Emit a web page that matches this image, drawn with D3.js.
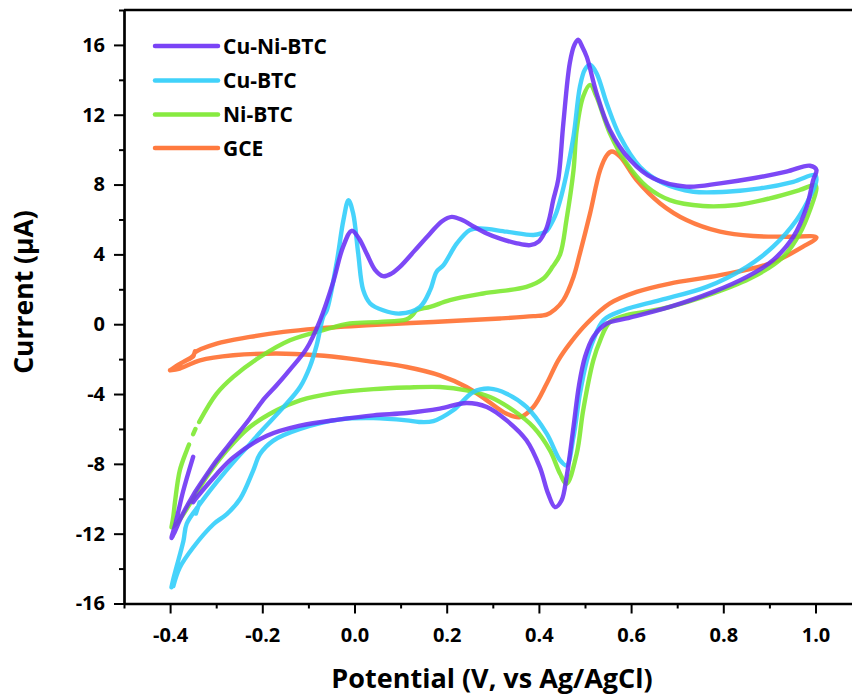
<!DOCTYPE html>
<html>
<head>
<meta charset="utf-8">
<script src="https://cdn.jsdelivr.net/npm/d3@7"></script>
<style>
  html, body { margin: 0; padding: 0; background: #fff; }
  svg { display: block; }
  text { font-family: "Open Sans", "Noto Sans", sans-serif; font-weight: 700; fill: #000; }
</style>
</head>
<body>
<svg id="chart" width="852" height="697"></svg>
<script>
// ---------- data (Potential V, Current µA); null = gap in the trace ----------
const seriesNames = ["Cu-Ni-BTC", "Cu-BTC", "Ni-BTC", "GCE"];

const cuNiBTC = [
  [-0.350,-7.6],[-0.372,-9.6],[-0.388,-11.4],[-0.397,-12.25],[-0.390,-11.9],[-0.375,-11.0],
  [-0.350,-9.8],[-0.320,-8.6],[-0.299,-7.8],[-0.263,-6.6],[-0.227,-5.4],[-0.200,-4.4],
  [-0.169,-3.5],[-0.140,-2.6],[-0.104,-1.4],[-0.075,0.2],[-0.047,2.35],[-0.025,4.42],
  [-0.006,5.35],[0.010,4.9],[0.026,4.07],[0.045,3.1],[0.062,2.75],[0.080,2.9],[0.099,3.3],
  [0.130,4.2],[0.164,5.2],[0.190,5.9],[0.211,6.15],[0.235,5.95],[0.258,5.6],[0.287,5.2],
  [0.316,4.9],[0.350,4.65],[0.381,4.53],[0.400,4.75],[0.415,5.4],[0.424,6.2],[0.431,7.1],
  [0.442,8.3],[0.453,11.5],[0.467,14.96],[0.477,16.0],[0.485,16.3],[0.494,15.9],[0.504,15.3],
  [0.525,13.24],[0.554,11.13],[0.598,9.41],[0.648,8.36],[0.720,7.88],[0.793,8.07],[0.865,8.36],
  [0.937,8.74],[0.988,9.08],[1.002,8.84],[0.995,8.26],[0.981,6.73],[0.952,5.01],[0.908,3.67],
  [0.851,2.71],[0.778,1.85],[0.684,0.99],[0.590,0.33],[0.547,0.04],[0.518,-0.73],[0.500,-1.88],
  [0.487,-3.5],[0.475,-5.89],[0.460,-8.76],[0.449,-10.1],[0.435,-10.48],[0.420,-9.71],
  [0.402,-8.19],[0.373,-6.65],[0.330,-5.51],[0.287,-4.74],[0.243,-4.51],[0.185,-4.84],
  [0.113,-5.09],[0.041,-5.22],[-0.031,-5.45],[-0.118,-5.81],[-0.190,-6.39],[-0.263,-7.63],
  [-0.299,-8.59],[-0.342,-9.92],[-0.350,-10.2]
];

const cuBTC = [
  [-0.344,-10.85],[-0.336,-10.2], null,
  [-0.397,-15.07],[-0.393,-14.6],[-0.386,-13.9],[-0.371,-12.4],[-0.364,-11.43],[-0.335,-10.29],
  [-0.299,-9.05],[-0.256,-7.7],[-0.227,-6.87],[-0.205,-6.2],[-0.154,-4.75],[-0.118,-3.6],
  [-0.097,-2.45],[-0.082,-1.2],[-0.068,0.42],[-0.060,0.80],[-0.039,3.48],[-0.024,5.97],
  [-0.013,7.11],[-0.003,6.35],[0.008,4.06],[0.019,1.95],[0.034,1.19],[0.062,0.80],[0.099,0.61],
  [0.142,0.99],[0.164,1.95],[0.178,3.00],[0.193,3.38],[0.222,4.63],[0.250,5.39],[0.272,5.49],
  [0.330,5.30],[0.388,5.11],[0.405,5.2],[0.417,5.35],[0.431,5.97],[0.438,6.4],[0.453,7.8],
  [0.475,10.75],[0.489,13.61],[0.500,14.6],[0.511,14.86],[0.525,14.38],[0.547,12.66],
  [0.576,10.75],[0.619,9.02],[0.670,8.07],[0.735,7.59],[0.807,7.59],[0.880,7.78],[0.952,8.16],
  [0.999,8.55],[1.002,8.26],[0.988,7.30],[0.959,5.97],[0.908,4.44],[0.851,3.29],[0.764,2.14],
  [0.663,1.38],[0.583,0.80],[0.540,0.23],[0.518,-0.92],[0.504,-2.07],[0.489,-3.98],[0.475,-6.46],
  [0.460,-8.09],[0.446,-7.80],[0.417,-6.27],[0.373,-4.74],[0.330,-3.98],[0.294,-3.69],
  [0.258,-3.88],[0.214,-4.93],[0.171,-5.55],[0.140,-5.6],[0.113,-5.51],[0.041,-5.38],
  [-0.031,-5.45],[-0.118,-6.0],[-0.176,-6.67],[-0.205,-7.44],[-0.220,-8.40],[-0.248,-10.0],
  [-0.277,-10.88],[-0.306,-11.46],[-0.350,-12.79],[-0.379,-13.94],[-0.393,-15.0]
];

const niBTC = [
  [-0.397,-11.63],[-0.393,-11.0],[-0.389,-10.1],[-0.379,-8.38],[-0.364,-7.23],[-0.359,-6.9], null,
  [-0.350,-6.3],[-0.345,-6.0], null,
  [-0.337,-5.6],[-0.299,-3.98],[-0.263,-3.02],[-0.205,-1.88],[-0.140,-0.92],[-0.068,-0.34],
  [-0.010,0.04],[0.055,0.13],[0.113,0.28],[0.125,0.5],[0.135,0.8],[0.164,0.99],[0.207,1.38],
  [0.279,1.76],[0.373,2.14],[0.409,2.6],[0.430,3.3],[0.446,4.0],[0.460,6.0],[0.475,8.8],
  [0.482,11.13],[0.496,13.04],[0.511,13.71],[0.525,13.04],[0.554,10.94],[0.590,9.22],
  [0.634,7.88],[0.684,7.11],[0.756,6.77],[0.829,6.83],[0.901,7.21],[0.966,7.69],[0.999,7.97],
  [1.002,7.78],[0.988,6.54],[0.966,5.20],[0.930,3.86],[0.865,2.71],[0.778,1.76],[0.670,0.90],
  [0.590,0.52],[0.554,0.13],[0.533,-0.92],[0.518,-2.07],[0.496,-4.93],[0.482,-7.42],
  [0.460,-9.14],[0.446,-8.57],[0.424,-7.23],[0.388,-5.89],[0.344,-4.93],[0.294,-4.17],
  [0.243,-3.79],[0.185,-3.60],[0.113,-3.63],[0.041,-3.72],[-0.046,-3.95],[-0.118,-4.36],
  [-0.169,-4.93],[-0.227,-5.89],[-0.277,-7.23],[-0.321,-8.76],[-0.357,-10.29],[-0.386,-11.43],
  [-0.395,-11.6]
];

const gce = [
  [-0.346,-1.55],[-0.350,-1.8],[-0.371,-2.16],[-0.390,-2.45],[-0.400,-2.64],[-0.390,-2.45],
  [-0.371,-2.16],[-0.350,-1.85],[-0.346,-1.62],[-0.299,-1.11],[-0.227,-0.73],[-0.154,-0.44],
  [-0.082,-0.25],[0.026,-0.06],[0.171,0.13],[0.316,0.33],[0.388,0.46],[0.417,0.55],[0.435,0.85],
  [0.453,1.38],[0.475,2.71],[0.489,4.06],[0.511,6.35],[0.533,8.84],[0.548,9.7],[0.558,9.89],
  [0.576,9.60],[0.612,8.26],[0.663,6.92],[0.720,5.97],[0.793,5.30],[0.865,5.05],[0.937,5.01],
  [1.002,4.97],[0.973,4.44],[0.901,3.48],[0.793,2.81],[0.684,2.33],[0.612,1.85],[0.554,1.19],
  [0.504,0.04],[0.467,-1.11],[0.442,-2.07],[0.417,-3.40],[0.388,-4.74],[0.359,-5.32],
  [0.330,-5.13],[0.287,-4.36],[0.243,-3.60],[0.185,-2.93],[0.113,-2.45],[0.041,-2.16],
  [-0.010,-1.97],[-0.082,-1.78],[-0.169,-1.68],[-0.263,-1.78],[-0.335,-2.07],[-0.379,-2.54],
  [-0.400,-2.64]
];

const xMajorTicks = [-0.4, -0.2, 0.0, 0.2, 0.4, 0.6, 0.8, 1.0];
const xTickLabels = ["-0.4", "-0.2", "0.0", "0.2", "0.4", "0.6", "0.8", "1.0"];
const xMinorTicks = [-0.5, -0.3, -0.1, 0.1, 0.3, 0.5, 0.7, 0.9];
const yMajorTicks = [-16, -12, -8, -4, 0, 4, 8, 12, 16];
const yTickLabels = ["-16", "-12", "-8", "-4", "0", "4", "8", "12", "16"];
const yMinorTicks = [-14, -10, -6, -2, 2, 6, 10, 14, 18];

const xTitle = "Potential (V, vs Ag/AgCl)";
const yTitle = "Current (\u03BCA)";

// ---------- drawing ----------
const colors = ["#6b2ff5", "#2ccdfa", "#7ae82b", "#ff6b2a"];
const allSeries = [cuNiBTC, cuBTC, niBTC, gce];

const svg = d3.select("#chart");
const mLeft = 124, mTop = 10, mBottom = 603.5;
const x = d3.scaleLinear().domain([-0.5, 1.1]).range([mLeft, mLeft + 1.6 * 461]);
const y = d3.scaleLinear().domain([-16, 18]).range([mBottom, mTop]);

// curves
const line = d3.line()
  .defined(d => d !== null)
  .x(d => x(d[0])).y(d => y(d[1]))
  .curve(d3.curveCatmullRom.alpha(0.5));

const order = [3, 2, 1, 0];
svg.append("g").selectAll("path").data(order).join("path")
  .attr("d", i => line(allSeries[i]))
  .attr("fill", "none")
  .attr("stroke", i => colors[i])
  .attr("stroke-width", 4.4)
  .attr("stroke-linejoin", "round")
  .attr("stroke-linecap", "round")
  .attr("stroke-opacity", 0.88);

// axes
const axisColor = "#000";
const gx = svg.append("g").attr("transform", `translate(0,${mBottom})`);
gx.call(d3.axisBottom(x).tickValues(xMajorTicks).tickSize(10).tickSizeOuter(0)
  .tickFormat((d, i) => xTickLabels[i]).tickPadding(14));
const gxm = svg.append("g").attr("transform", `translate(0,${mBottom})`);
gxm.call(d3.axisBottom(x).tickValues(xMinorTicks).tickSize(5).tickSizeOuter(0).tickFormat(""));
gxm.select(".domain").remove();

const gy = svg.append("g").attr("transform", `translate(${mLeft},0)`);
gy.call(d3.axisLeft(y).tickValues(yMajorTicks).tickSize(10).tickSizeOuter(0)
  .tickFormat((d, i) => yTickLabels[i]).tickPadding(9));
const gym = svg.append("g").attr("transform", `translate(${mLeft},0)`);
gym.call(d3.axisLeft(y).tickValues(yMinorTicks).tickSize(5).tickSizeOuter(0).tickFormat(""));
gym.select(".domain").remove();

svg.selectAll(".domain").attr("stroke", axisColor).attr("stroke-width", 2.7);
svg.selectAll(".tick line").attr("stroke", axisColor).attr("stroke-width", 2);
svg.selectAll(".tick text")
  .style("font-family", "'Open Sans', sans-serif")
  .style("font-weight", 700).style("font-size", "20px").attr("fill", "#000");

// top border
svg.append("line")
  .attr("x1", mLeft).attr("x2", x(1.1)).attr("y1", mTop).attr("y2", mTop)
  .attr("stroke", axisColor).attr("stroke-width", 2.7);

// axis titles
svg.append("text")
  .attr("x", 492).attr("y", 688)
  .attr("text-anchor", "middle")
  .style("font-size", "27px")
  .text(xTitle);
svg.append("text")
  .attr("transform", "translate(33,292) rotate(-90)")
  .attr("text-anchor", "middle")
  .style("font-size", "26.5px")
  .text(yTitle);

// legend
const legendY = [46, 80.5, 114.5, 148];
const lg = svg.append("g");
seriesNames.forEach((name, i) => {
  lg.append("line")
    .attr("x1", 155).attr("x2", 218)
    .attr("y1", legendY[i]).attr("y2", legendY[i])
    .attr("stroke", colors[i]).attr("stroke-width", 4.5)
    .attr("stroke-linecap", "round").attr("stroke-opacity", 0.9);
  lg.append("text")
    .attr("x", 223).attr("y", legendY[i] + 7.8)
    .style("font-size", "21px")
    .text(name);
});
</script>
</body>
</html>
